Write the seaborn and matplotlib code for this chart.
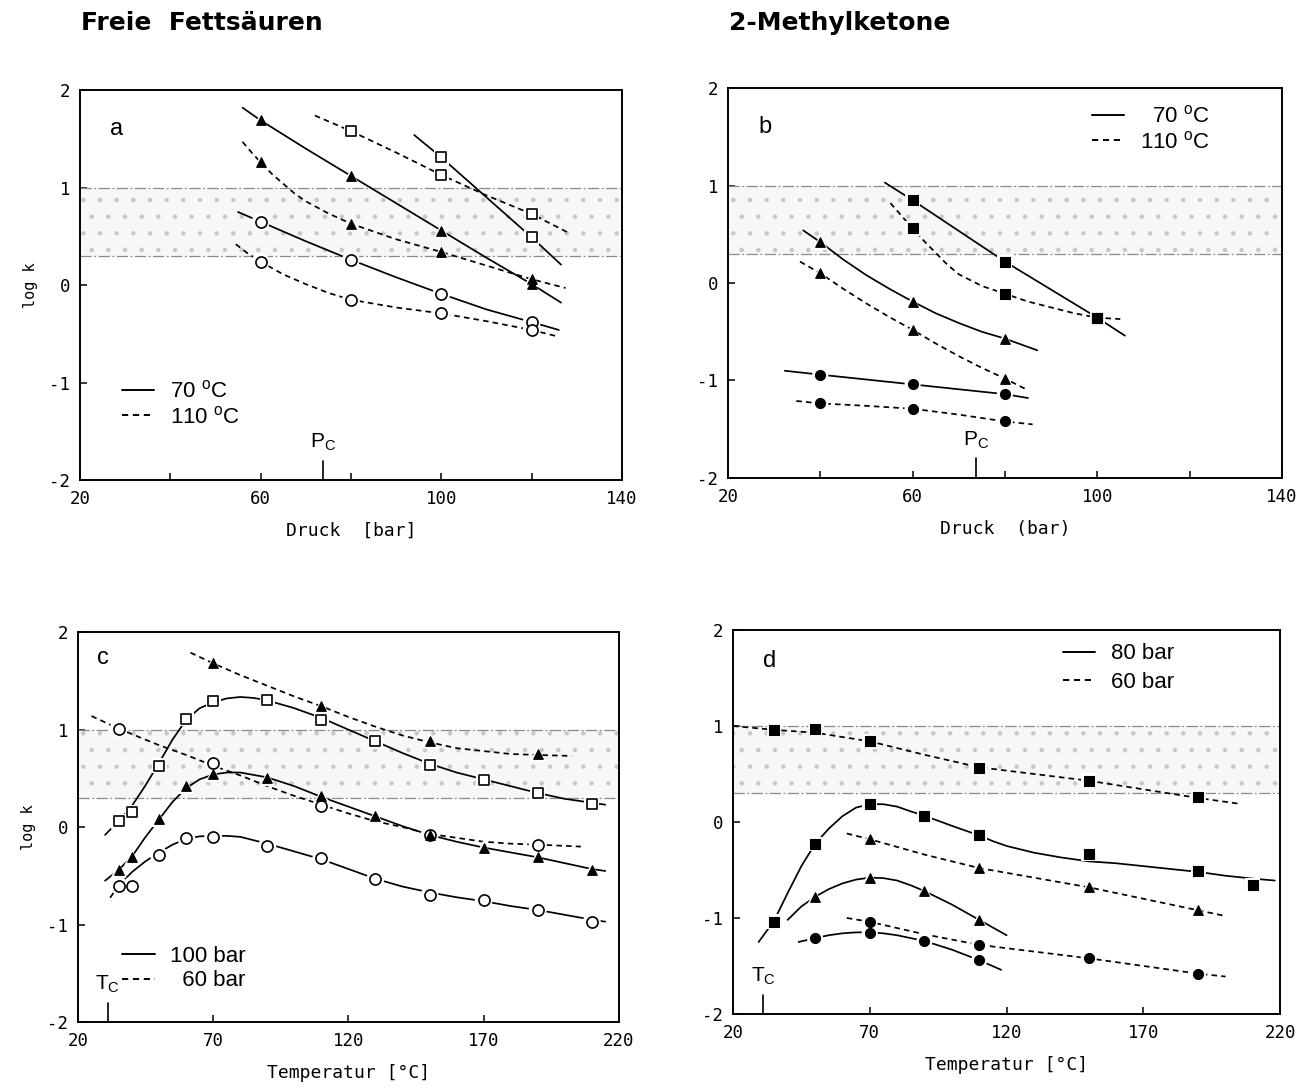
import matplotlib
matplotlib.use("Agg")
import matplotlib.pyplot as plt
from matplotlib.lines import Line2D
import seaborn as sns

# ---------------- DATA ----------------
PC_BAR = 73.8   # critical pressure CO2
TC_DEG = 31.0   # critical temperature CO2
BAND_LO, BAND_HI = 0.3, 1.0

# Panel a: Freie Fettsäuren, log k vs Druck
a_tri70_x = [60, 80, 100, 120]
a_tri70_y = [1.69, 1.12, 0.56, 0.01]
a_tri70_cx = [56, 60, 70, 80, 90, 100, 110, 120, 126.5]
a_tri70_cy = [1.82, 1.69, 1.40, 1.12, 0.84, 0.56, 0.28, 0.01, -0.18]

a_tri110_x = [60, 80, 100, 120]
a_tri110_y = [1.26, 0.63, 0.34, 0.06]
a_tri110_cx = [56, 58, 60, 62.5, 65, 67.5, 70, 75, 80, 90, 100, 110, 120, 127.5]
a_tri110_cy = [1.47, 1.36, 1.26, 1.14, 1.04, 0.94, 0.86, 0.735, 0.63, 0.47, 0.34, 0.20, 0.06, -0.03]

a_sq70_x = [100, 120]
a_sq70_y = [1.31, 0.49]
a_sq70_cx = [94, 100, 120, 126.5]
a_sq70_cy = [1.54, 1.31, 0.49, 0.21]

a_sq110_x = [80, 100, 120]
a_sq110_y = [1.58, 1.13, 0.73]
a_sq110_cx = [72, 80, 90, 100, 110, 120, 128]
a_sq110_cy = [1.74, 1.58, 1.36, 1.13, 0.92, 0.73, 0.54]

a_ci70_x = [60, 80, 100, 120]
a_ci70_y = [0.65, 0.26, -0.09, -0.38]
a_ci70_cx = [55, 60, 70, 80, 90, 100, 110, 120, 126]
a_ci70_cy = [0.75, 0.65, 0.45, 0.26, 0.08, -0.09, -0.25, -0.38, -0.46]

a_ci110_x = [60, 80, 100, 120]
a_ci110_y = [0.24, -0.15, -0.29, -0.46]
a_ci110_cx = [54.5, 57, 60, 65, 70, 75, 80, 90, 100, 110, 120, 126]
a_ci110_cy = [0.42, 0.33, 0.24, 0.11, 0.01, -0.08, -0.15, -0.23, -0.29, -0.37, -0.46, -0.53]

# Panel b: 2-Methylketone, log k vs Druck
b_sq70_x = [60, 80, 100]
b_sq70_y = [0.85, 0.22, -0.355]
b_sq70_cx = [54, 60, 80, 100, 106]
b_sq70_cy = [1.03, 0.85, 0.22, -0.355, -0.54]

b_sq110_x = [60, 80, 100]
b_sq110_y = [0.56, -0.11, -0.355]
b_sq110_cx = [55.2, 60, 62.5, 65, 67.5, 70, 75, 80, 85, 90, 95, 100, 105]
b_sq110_cy = [0.82, 0.56, 0.43, 0.31, 0.19, 0.09, -0.03, -0.11, -0.19, -0.25, -0.31, -0.355, -0.37]

b_tri70_x = [40, 60, 80]
b_tri70_y = [0.42, -0.19, -0.57]
b_tri70_cx = [36.3, 40, 45, 50, 55, 60, 65, 70, 75, 80, 87]
b_tri70_cy = [0.54, 0.42, 0.24, 0.08, -0.06, -0.19, -0.31, -0.41, -0.50, -0.57, -0.69]

b_tri110_x = [40, 60, 80]
b_tri110_y = [0.10, -0.48, -0.98]
b_tri110_cx = [35.6, 40, 45, 50, 55, 60, 65, 70, 75, 80, 85]
b_tri110_cy = [0.22, 0.10, -0.06, -0.21, -0.35, -0.48, -0.62, -0.75, -0.87, -0.98, -1.10]

b_ci70_x = [40, 60, 80]
b_ci70_y = [-0.94, -1.04, -1.14]
b_ci70_cx = [32.3, 40, 60, 80, 85]
b_ci70_cy = [-0.90, -0.94, -1.04, -1.14, -1.18]

b_ci110_x = [40, 60, 80]
b_ci110_y = [-1.235, -1.29, -1.42]
b_ci110_cx = [34.8, 40, 50, 60, 70, 80, 86]
b_ci110_cy = [-1.21, -1.235, -1.26, -1.29, -1.35, -1.42, -1.45]

# Panel c: Freie Fettsäuren, log k vs Temperatur
c_T = [35, 40, 50, 60, 70, 90, 110, 130, 150, 170, 190, 210]
c_sq100_y = [0.06, 0.15, 0.63, 1.11, 1.29, 1.30, 1.10, 0.88, 0.64, 0.48, 0.35, 0.24]
c_sq100_cx = [30, 35, 40, 45, 50, 55, 60, 65, 70, 75, 80, 85, 90, 100, 110, 120,
              130, 140, 150, 160, 170, 180, 190, 200, 210, 215]
c_sq100_cy = [-0.08, 0.06, 0.22, 0.43, 0.66, 0.90, 1.10, 1.22, 1.28, 1.32, 1.335, 1.325,
              1.30, 1.22, 1.12, 1.00, 0.88, 0.76, 0.65, 0.56, 0.49, 0.42, 0.35, 0.29, 0.25, 0.23]

c_tri60_x = [70, 110, 150, 190]
c_tri60_y = [1.68, 1.24, 0.885, 0.75]
c_tri60_cx = [61.6, 70, 80, 90, 100, 110, 120, 130, 140, 150, 160, 170, 180, 190, 202.6]
c_tri60_cy = [1.79, 1.68, 1.56, 1.45, 1.34, 1.24, 1.13, 1.03, 0.94, 0.87, 0.81, 0.78, 0.75, 0.74, 0.73]

c_ci60_x = [35, 70, 110, 150, 190]
c_ci60_y = [1.01, 0.66, 0.22, -0.08, -0.18]
c_ci60_cx = [25, 35, 50, 60, 70, 80, 90, 100, 110, 120, 130, 140, 150, 160, 170, 180, 190, 206]
c_ci60_cy = [1.14, 1.01, 0.84, 0.74, 0.63, 0.53, 0.42, 0.32, 0.23, 0.14, 0.06, 0.0,
             -0.07, -0.11, -0.15, -0.17, -0.18, -0.20]

c_tri100_y = [-0.44, -0.31, 0.08, 0.42, 0.54, 0.50, 0.32, 0.11, -0.08, -0.21, -0.31, -0.44]
c_tri100_cx = [30, 35, 40, 45, 50, 55, 60, 65, 70, 75, 80, 90, 100, 110, 120, 130,
               140, 150, 160, 170, 180, 190, 200, 210, 215]
c_tri100_cy = [-0.55, -0.44, -0.30, -0.10, 0.08, 0.26, 0.40, 0.49, 0.54, 0.56, 0.56, 0.51,
               0.42, 0.31, 0.21, 0.11, 0.01, -0.08, -0.15, -0.21, -0.26, -0.31, -0.37, -0.43, -0.45]

c_ci100_y = [-0.60, -0.60, -0.29, -0.11, -0.10, -0.19, -0.32, -0.53, -0.70, -0.75, -0.85, -0.97]
c_ci100_cx = [32, 35, 40, 45, 50, 55, 60, 65, 70, 75, 80, 90, 100, 110, 120, 130,
              140, 150, 160, 170, 180, 190, 200, 210, 215]
c_ci100_cy = [-0.72, -0.60, -0.46, -0.35, -0.26, -0.18, -0.12, -0.095, -0.09, -0.09, -0.10,
              -0.17, -0.25, -0.33, -0.43, -0.53, -0.61, -0.67, -0.72, -0.76, -0.81, -0.85,
              -0.90, -0.95, -0.97]

# Panel d: 2-Methylketone, log k vs Temperatur
d_sq60_x = [35, 50, 70, 110, 150, 190]
d_sq60_y = [0.96, 0.97, 0.84, 0.56, 0.43, 0.26]
d_sq60_cx = [20, 35, 50, 70, 90, 110, 130, 150, 170, 190, 205]
d_sq60_cy = [1.0, 0.96, 0.93, 0.84, 0.70, 0.57, 0.50, 0.43, 0.34, 0.25, 0.19]

d_sq80_x = [35, 50, 70, 90, 110, 150, 190, 210]
d_sq80_y = [-1.04, -0.23, 0.19, 0.065, -0.14, -0.33, -0.51, -0.66]
d_sq80_cx = [29.4, 35, 40, 45, 50, 55, 60, 65, 70, 75, 80, 85, 90, 100, 110, 115, 120,
             130, 140, 150, 160, 170, 180, 190, 200, 210, 218]
d_sq80_cy = [-1.25, -1.03, -0.74, -0.46, -0.23, -0.07, 0.06, 0.15, 0.185, 0.185, 0.16,
             0.11, 0.065, -0.04, -0.14, -0.20, -0.25, -0.32, -0.37, -0.41, -0.43, -0.46,
             -0.49, -0.52, -0.56, -0.59, -0.61]

d_tri60_x = [70, 110, 150, 190]
d_tri60_y = [-0.18, -0.48, -0.68, -0.92]
d_tri60_cx = [61.6, 70, 90, 110, 130, 150, 170, 190, 200]
d_tri60_cy = [-0.12, -0.18, -0.34, -0.48, -0.58, -0.68, -0.80, -0.92, -0.98]

d_tri80_x = [50, 70, 90, 110]
d_tri80_y = [-0.78, -0.58, -0.72, -1.02]
d_tri80_cx = [40, 45, 50, 55, 60, 65, 70, 75, 80, 85, 90, 95, 100, 110, 120]
d_tri80_cy = [-1.02, -0.88, -0.78, -0.70, -0.64, -0.60, -0.58, -0.585, -0.61, -0.66,
              -0.72, -0.79, -0.86, -1.02, -1.18]

d_ci60_x = [70, 110, 150, 190]
d_ci60_y = [-1.04, -1.28, -1.42, -1.58]
d_ci60_cx = [61.6, 70, 90, 110, 130, 150, 170, 190, 200]
d_ci60_cy = [-1.0, -1.04, -1.17, -1.28, -1.35, -1.42, -1.50, -1.58, -1.61]

d_ci80_x = [50, 70, 90, 110]
d_ci80_y = [-1.21, -1.16, -1.24, -1.44]
d_ci80_cx = [44, 50, 55, 60, 65, 70, 75, 80, 85, 90, 100, 110, 118]
d_ci80_cy = [-1.25, -1.21, -1.18, -1.16, -1.15, -1.15, -1.16, -1.18, -1.21, -1.24,
             -1.33, -1.44, -1.54]

# ---------------- STYLE ----------------
sns.set_theme(style="ticks")
plt.rcParams.update({
    "font.family": ["Liberation Sans", "DejaVu Sans"],
    "mathtext.fontset": "custom",
    "mathtext.rm": "Liberation Sans",
    "mathtext.it": "Liberation Sans",
    "text.color": "black",
    "axes.labelcolor": "black",
    "xtick.color": "black",
    "ytick.color": "black",
    "axes.edgecolor": "black",
    "axes.linewidth": 1.4,
    "hatch.color": "#c8c8c8",
    "hatch.linewidth": 0.8,
})

SOLID = "-"
DASH = (0, (3.2, 2.4))
MONO = "DejaVu Sans Mono"

fig = plt.figure(figsize=(13.0, 10.89), dpi=100)
fig.patch.set_facecolor("white")

ax_a = fig.add_axes([0.0615, 0.5592, 0.417, 0.358])
ax_b = fig.add_axes([0.560, 0.5611, 0.426, 0.358])
ax_c = fig.add_axes([0.0600, 0.0615, 0.416, 0.358])
ax_d = fig.add_axes([0.5638, 0.0689, 0.421, 0.3526])

MSTYLE = {
    "tri": dict(marker="^", s=48, filled=True),
    "sq_open": dict(marker="s", s=44, filled=False),
    "sq": dict(marker="s", s=44, filled=True),
    "ci_open": dict(marker="o", s=64, filled=False),
    "ci": dict(marker="o", s=52, filled=True),
}


def series(ax, cx, cy, px, py, ls, mkey):
    sns.lineplot(x=cx, y=cy, ax=ax, color="black", linewidth=1.25,
                 linestyle=ls, sort=False, estimator=None, zorder=2)
    st = MSTYLE[mkey]
    # white halo: the printed curves break around each symbol
    sns.scatterplot(x=px, y=py, ax=ax, marker=st["marker"], s=st["s"] * 2.6,
                    color="white", edgecolor="none", linewidth=0, zorder=3)
    if st["filled"]:
        sns.scatterplot(x=px, y=py, ax=ax, marker=st["marker"], s=st["s"],
                        color="black", edgecolor="black", linewidth=0.8, zorder=4)
    else:
        sns.scatterplot(x=px, y=py, ax=ax, marker=st["marker"], s=st["s"],
                        color="white", edgecolor="black", linewidth=1.2, zorder=4)


def frame(ax, xlim, xticks, xlabels, xlabel, ylabel):
    ax.set_xlim(*xlim)
    ax.set_ylim(-2, 2)
    ax.axhspan(BAND_LO, BAND_HI, facecolor="#f7f7f7", edgecolor="#c8c8c8",
               hatch=".", linewidth=0, zorder=0)
    for yv in (BAND_LO, BAND_HI):
        ax.axhline(yv, color="#8a8a8a", linewidth=0.9,
                   linestyle=(0, (9, 2, 1.5, 2)), zorder=1)
    ax.set_xticks(xticks)
    ax.set_xticklabels(xlabels, fontfamily=MONO, fontsize=12.5)
    ax.set_yticks([-2, -1, 0, 1, 2])
    ax.set_yticklabels(["-2", "-1", "0", "1", "2"], fontfamily=MONO, fontsize=12.5)
    ax.tick_params(direction="in", length=5, width=1.1, top=False, right=False,
                   pad=7, colors="black")
    for sp in ax.spines.values():
        sp.set_visible(True)
        sp.set_linewidth(1.4)
        sp.set_color("black")
    ax.set_xlabel(xlabel, fontfamily=MONO, fontsize=13, labelpad=10)
    if ylabel:
        ax.set_ylabel(ylabel, fontfamily=MONO, fontsize=11, labelpad=8)
    else:
        ax.set_ylabel("")
    ax.set_facecolor("white")


def crit(ax, xv, label):
    ax.plot([xv, xv], [-2, -1.80], color="black", linewidth=1.2, zorder=5)
    ax.text(xv, -1.72, label, ha="center", va="bottom", fontsize=15)


def legend(ax, labels, anchor, spacing=0.15):
    handles = [Line2D([], [], color="black", lw=1.4, linestyle=SOLID),
               Line2D([], [], color="black", lw=1.4, linestyle=DASH)]
    ax.legend(handles, labels, loc="upper left", bbox_to_anchor=anchor,
              frameon=False, fontsize=16, handlelength=1.45, handletextpad=0.7,
              labelspacing=spacing, borderaxespad=0, borderpad=0)


deg = "$^{\\mathrm{o}}$C"

# ---- panel a ----
frame(ax_a, (20, 140), [20, 40, 60, 80, 100, 120, 140],
      ["20", "", "60", "", "100", "", "140"], "Druck  [bar]", "log k")
series(ax_a, a_tri70_cx, a_tri70_cy, a_tri70_x, a_tri70_y, SOLID, "tri")
series(ax_a, a_tri110_cx, a_tri110_cy, a_tri110_x, a_tri110_y, DASH, "tri")
series(ax_a, a_sq70_cx, a_sq70_cy, a_sq70_x, a_sq70_y, SOLID, "sq_open")
series(ax_a, a_sq110_cx, a_sq110_cy, a_sq110_x, a_sq110_y, DASH, "sq_open")
series(ax_a, a_ci70_cx, a_ci70_cy, a_ci70_x, a_ci70_y, SOLID, "ci_open")
series(ax_a, a_ci110_cx, a_ci110_cy, a_ci110_x, a_ci110_y, DASH, "ci_open")
crit(ax_a, PC_BAR, "P$_\\mathrm{C}$")
legend(ax_a, ["70 " + deg, "110 " + deg], (0.078, 0.255))
ax_a.text(0.055, 0.9, "a", transform=ax_a.transAxes, fontsize=17, va="center")

# ---- panel b ----
frame(ax_b, (20, 140), [20, 40, 60, 80, 100, 120, 140],
      ["20", "", "60", "", "100", "", "140"], "Druck  (bar)", None)
series(ax_b, b_sq70_cx, b_sq70_cy, b_sq70_x, b_sq70_y, SOLID, "sq")
series(ax_b, b_sq110_cx, b_sq110_cy, b_sq110_x, b_sq110_y, DASH, "sq")
series(ax_b, b_tri70_cx, b_tri70_cy, b_tri70_x, b_tri70_y, SOLID, "tri")
series(ax_b, b_tri110_cx, b_tri110_cy, b_tri110_x, b_tri110_y, DASH, "tri")
series(ax_b, b_ci70_cx, b_ci70_cy, b_ci70_x, b_ci70_y, SOLID, "ci")
series(ax_b, b_ci110_cx, b_ci110_cy, b_ci110_x, b_ci110_y, DASH, "ci")
crit(ax_b, PC_BAR, "P$_\\mathrm{C}$")
legend(ax_b, ["  70 " + deg, "110 " + deg], (0.657, 0.955))
ax_b.text(0.055, 0.9, "b", transform=ax_b.transAxes, fontsize=17, va="center")

# ---- panel c ----
frame(ax_c, (20, 220), [20, 70, 120, 170, 220],
      ["20", "70", "120", "170", "220"], "Temperatur [°C]", "log k")
series(ax_c, c_sq100_cx, c_sq100_cy, c_T, c_sq100_y, SOLID, "sq_open")
series(ax_c, c_tri60_cx, c_tri60_cy, c_tri60_x, c_tri60_y, DASH, "tri")
series(ax_c, c_ci60_cx, c_ci60_cy, c_ci60_x, c_ci60_y, DASH, "ci_open")
series(ax_c, c_tri100_cx, c_tri100_cy, c_T, c_tri100_y, SOLID, "tri")
series(ax_c, c_ci100_cx, c_ci100_cy, c_T, c_ci100_y, SOLID, "ci_open")
crit(ax_c, TC_DEG, "T$_\\mathrm{C}$")
legend(ax_c, ["100 bar", "  60 bar"], (0.082, 0.195))
ax_c.text(0.035, 0.935, "c", transform=ax_c.transAxes, fontsize=17, va="center")

# ---- panel d ----
frame(ax_d, (20, 220), [20, 70, 120, 170, 220],
      ["20", "70", "120", "170", "220"], "Temperatur [°C]", None)
series(ax_d, d_sq60_cx, d_sq60_cy, d_sq60_x, d_sq60_y, DASH, "sq")
series(ax_d, d_sq80_cx, d_sq80_cy, d_sq80_x, d_sq80_y, SOLID, "sq")
series(ax_d, d_tri60_cx, d_tri60_cy, d_tri60_x, d_tri60_y, DASH, "tri")
series(ax_d, d_tri80_cx, d_tri80_cy, d_tri80_x, d_tri80_y, SOLID, "tri")
series(ax_d, d_ci60_cx, d_ci60_cy, d_ci60_x, d_ci60_y, DASH, "ci")
series(ax_d, d_ci80_cx, d_ci80_cy, d_ci80_x, d_ci80_y, SOLID, "ci")
crit(ax_d, TC_DEG, "T$_\\mathrm{C}$")
legend(ax_d, ["80 bar", "60 bar"], (0.603, 0.965), spacing=0.35)
ax_d.text(0.055, 0.92, "d", transform=ax_d.transAxes, fontsize=17, va="center")

# ---- titles ----
fig.text(0.062, 0.979, "Freie  Fettsäuren", fontsize=18, fontweight="bold",
         va="center", ha="left", color="black", family=["DejaVu Sans"])
fig.text(0.5605, 0.979, "2-Methylketone", fontsize=18, fontweight="bold",
         va="center", ha="left", color="black", family=["DejaVu Sans"])

fig.savefig("out.png", dpi=100, facecolor="white")
